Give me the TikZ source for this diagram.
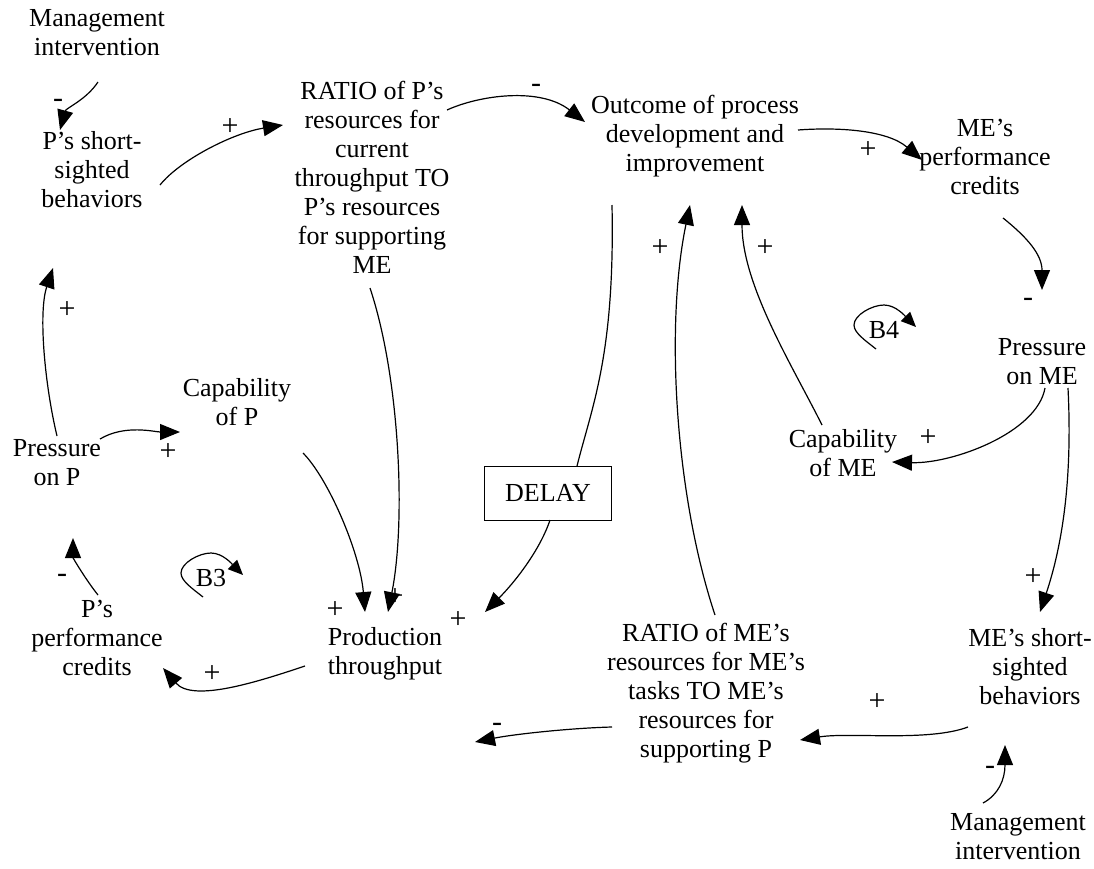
\documentclass[tikz,border=0pt]{standalone}
\usepackage{fontspec}
\setmainfont{Liberation Serif}
\usetikzlibrary{arrows.meta}
\begin{document}
\begin{tikzpicture}[x=1pt,y=1pt,
  v/.style={align=center, inner sep=1pt, font=\fontsize{26}{29}\selectfont},
  lbl/.style={inner sep=0pt, font=\fontsize{30}{30}\selectfont},
  lpt/.style={inner sep=0pt, font=\fontsize{26}{29}\selectfont},
  arr/.style={-{Triangle[length=20pt,width=16pt]}, line width=1.2pt},
  sarr/.style={-{Triangle[length=15pt,width=13pt]}, line width=1.2pt},
  ln/.style={line width=1.2pt}]
\useasboundingbox (0,0) rectangle (1094,-868);
% nodes
\node[v] (mi1) at (97,-33) {Management\\intervention};
\node[v] (psb) at (92,-170) {P’s short-\\sighted\\behaviors};
\node[v] (ratioP) at (372,-177) {RATIO of P’s\\resources for\\current\\throughput TO\\P’s resources\\for supporting\\ME};
\node[v] (out) at (695,-136) {Outcome of process\\development and\\improvement};
\node[v] (mepc) at (985,-157) {ME’s\\performance\\credits};
\node[v] (pme) at (1042,-362) {Pressure\\on ME};
\node[v] (capME) at (843,-453) {Capability\\of ME};
\node[draw, line width=1pt, minimum width=127pt, minimum height=54pt, inner sep=0pt,
  font=\fontsize{26}{29}\selectfont] (delay) at (548,-493) {DELAY};
\node[v] (capP) at (237,-402) {Capability\\of P};
\node[v] (pp) at (57,-463) {Pressure\\on P};
\node[v] (ppc) at (97,-638) {P’s\\performance\\credits};
\node[v] (prod) at (385,-654) {Production\\throughput};
\node[v] (ratioME) at (706,-693) {RATIO of ME’s\\resources for ME’s\\tasks TO ME’s\\resources for\\supporting P};
\node[v] (mesb) at (1030,-667) {ME’s short-\\sighted\\behaviors};
\node[v] (mi2) at (1018,-837) {Management\\intervention};
\node[lpt] (b3) at (211,-578) {B3};
\node[lpt] (b4) at (884,-330) {B4};
% connectors
\draw[arr] ([shift={(1,-49)}]mi1.center) .. controls +(-12,-18) and +(6,22) .. ([shift={(-32,40)}]psb.center);
\draw[arr] ([shift={(68,-15)}]psb.center) .. controls +(20,25) and +(-50,-8) .. ([shift={(-89,52)}]ratioP.center);
\draw[arr] ([shift={(75,67)}]ratioP.center) .. controls +(33,15) and +(-45,35) .. ([shift={(-110,14)}]out.center);
\draw[arr] ([shift={(103,6)}]out.center) .. controls +(40,3) and +(-35,30) .. ([shift={(-63,-3)}]mepc.center);
\draw[arr] ([shift={(18,-61)}]mepc.center) .. controls +(25,-20) and +(0,35) .. ([shift={(0,72)}]pme.center);
\draw[arr] ([shift={(3,-26)}]pme.center) .. controls +(-8,-45) and +(60,-2) .. ([shift={(49,-9)}]capME.center);
\draw[arr] ([shift={(26,-26)}]pme.center) .. controls +(5,-100) and +(20,60) .. ([shift={(10,55)}]mesb.center);
\draw[arr] ([shift={(-35,34)}]mi2.center) .. controls +(15,8) and +(0,-35) .. ([shift={(-25,-78)}]mesb.center);
\draw[arr] ([shift={(-62,-60)}]mesb.center) .. controls +(-40,-15) and +(50,8) .. ([shift={(94,-47)}]ratioME.center);
\draw[arr] ([shift={(-94,-34)}]ratioME.center) .. controls +(-40,-1) and +(40,8) .. ([shift={(90,-88)}]prod.center);
\draw[arr] ([shift={(-80,-12)}]prod.center) .. controls +(-45,-15) and +(30,-35) .. ([shift={(66,-30)}]ppc.center);
\draw[arr] ([shift={(1,43)}]ppc.center) .. controls +(-12,15) and +(0,-20) .. ([shift={(16,-75)}]pp.center);
\draw[arr] ([shift={(0,27)}]pp.center) .. controls +(-12,50) and +(-15,-45) .. ([shift={(-39,-98)}]psb.center);
\draw[arr] ([shift={(43,24)}]pp.center) .. controls +(25,15) and +(-25,0) .. ([shift={(-57,-30)}]capP.center);
\draw[arr] ([shift={(66,-51)}]capP.center) .. controls +(25,-25) and +(-5,60) .. ([shift={(-20,42)}]prod.center);
\draw[arr] ([shift={(-2,-111)}]ratioP.center) .. controls +(30,-90) and +(18,90) .. ([shift={(3,42)}]prod.center);
\draw[ln] ([shift={(-83,-69)}]out.center) .. controls +(3,-150) and +(15,60) .. ([shift={(29,27)}]delay.center);
\draw[arr] ([shift={(2,-27)}]delay.center) .. controls +(-10,-30) and +(30,30) .. ([shift={(100,42)}]prod.center);
\draw[arr] ([shift={(9,78)}]ratioME.center) .. controls +(-40,120) and +(-25,-120) .. ([shift={(-5,-69)}]out.center);
\draw[arr] ([shift={(-21,28)}]capME.center) .. controls +(-30,60) and +(0,-80) .. ([shift={(47,-69)}]out.center);
% loop markers
\draw[sarr] ([shift={(-8,-19)}]b3.center) .. controls +(-10,8) and +(0,-8) .. ([shift={(-30,5)}]b3.center)
  .. controls +(0,10) and +(-12,0) .. ([shift={(0,25)}]b3.center)
  .. controls +(12,0) and +(-10,10) .. ([shift={(32,3)}]b3.center);
\draw[sarr] ([shift={(-8,-19)}]b4.center) .. controls +(-10,8) and +(0,-8) .. ([shift={(-30,5)}]b4.center)
  .. controls +(0,10) and +(-12,0) .. ([shift={(0,25)}]b4.center)
  .. controls +(12,0) and +(-10,10) .. ([shift={(32,3)}]b4.center);
% polarity labels
\node[lbl] (l1) at (58,-103) {-};
\node[lbl] (l2) at (230,-127) {+};
\node[lbl] (l3) at (536,-88) {-};
\node[lbl] (l4) at (868,-150) {+};
\node[lbl] (l5) at (1028,-302) {-};
\node[lbl] (l6) at (928,-438) {+};
\node[lbl] (l7) at (1033,-577) {+};
\node[lbl] (l8) at (990,-770) {-};
\node[lbl] (l9) at (877,-702) {+};
\node[lbl] (l10) at (497,-727) {-};
\node[lbl] (l11) at (212,-674) {+};
\node[lbl] (l12) at (62,-578) {-};
\node[lbl] (l13) at (67,-310) {+};
\node[lbl] (l14) at (168,-452) {+};
\node[lbl] (l15) at (335,-610) {+};
\node[lbl] (l16) at (395,-597) {+};
\node[lbl] (l17) at (458,-620) {+};
\node[lbl] (l18) at (660,-248) {+};
\node[lbl] (l19) at (765,-248) {+};
\end{tikzpicture}
\end{document}
